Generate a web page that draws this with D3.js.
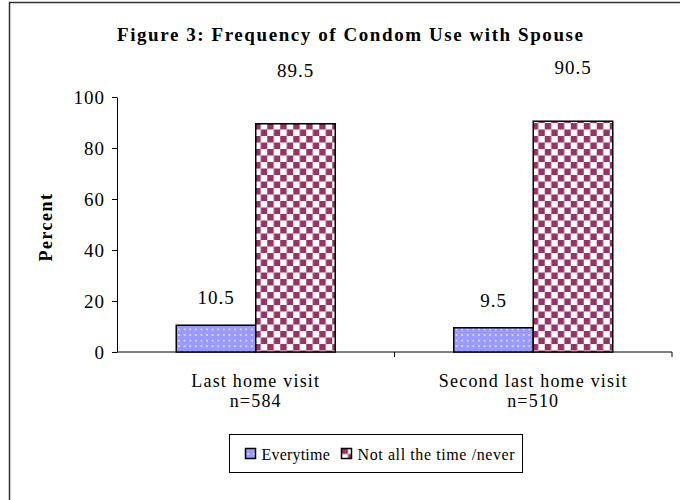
<!DOCTYPE html>
<html lang="en">
<head>
  <meta charset="UTF-8" />
  <title>Figure 3: Frequency of Condom Use with Spouse</title>
  <script src="https://d3js.org/d3.v7.min.js"></script>
  <style>
    html, body { margin: 0; background: #fff; overflow: hidden; }
    svg { display: block; font-family: 'Liberation Serif', 'Times New Roman', serif; }
    .axis path, .axis line { stroke: #000; }
    .axis text { font-size: 19px; fill: #000; font-family: 'Liberation Serif', serif; }
  </style>
</head>
<body>
<svg width="680" height="500"></svg>
<script>
  // data
  const categories = ["Last home visit", "Second last home visit"];
  const sampleSizes = ["n=584", "n=510"];
  const seriesNames = ["Everytime", "Not all the time /never"];
  const everytime = [10.5, 9.5];
  const notAllTime = [89.5, 90.5];
  const yTicks = [0, 20, 40, 60, 80, 100];

  const svg = d3.select("svg");
  const margin = { left: 117, right: 8, top: 97, bottom: 148 };
  const width = 680 - margin.left - margin.right;
  const height = 500 - margin.top - margin.bottom;

  // patterns for the bars
  const defs = svg.append("defs");
  const dots = defs.append("pattern")
    .attr("id", "dots")
    .attr("patternUnits", "userSpaceOnUse")
    .attr("width", 5.6).attr("height", 5.6);
  dots.append("rect").attr("width", 5.6).attr("height", 5.6).attr("fill", "#9999ff");
  dots.append("circle").attr("cx", 2.8).attr("cy", 2.8).attr("r", 0.9).attr("fill", "#eef");

  const checks = defs.append("pattern")
    .attr("id", "checks")
    .attr("patternUnits", "userSpaceOnUse")
    .attr("width", 13).attr("height", 13);
  checks.append("rect").attr("width", 13).attr("height", 13).attr("fill", "#fff");
  checks.append("rect").attr("width", 6.5).attr("height", 6.5).attr("fill", "#993366");
  checks.append("rect").attr("x", 6.5).attr("y", 6.5).attr("width", 6.5).attr("height", 6.5).attr("fill", "#993366");

  const fills = ["url(#dots)", "url(#checks)"];

  // outer frame (right and bottom edges run off the page)
  svg.append("path")
    .attr("d", "M9.5,520V2.5H700")
    .attr("fill", "none")
    .attr("stroke", "#333")
    .attr("stroke-width", 1.5);

  // title
  svg.append("text")
    .attr("x", 350).attr("y", 41)
    .attr("text-anchor", "middle")
    .attr("font-weight", "bold")
    .attr("font-size", 19)
    .attr("textLength", 466)
    .attr("lengthAdjust", "spacing")
    .text("Figure 3: Frequency of Condom Use with Spouse");

  const g = svg.append("g").attr("transform", `translate(${margin.left},${margin.top})`);

  const x0 = d3.scaleBand().domain(categories).range([0, width]);
  const x1 = d3.scaleBand().domain(seriesNames).range([0, 159]);
  const y = d3.scaleLinear().domain([0, 100]).range([height, 0]);

  // y axis
  g.append("g")
    .attr("class", "axis")
    .call(d3.axisLeft(y).tickValues(yTicks).tickSize(5).tickPadding(7).tickSizeOuter(0))
    .call(a => a.selectAll("text").attr("letter-spacing", 1));

  // x axis: ticks at category boundaries
  const xAxis = g.append("g").attr("class", "axis").attr("transform", `translate(0,${height})`);
  xAxis.append("line").attr("x1", 0).attr("x2", width).attr("stroke", "#000");
  xAxis.selectAll(".bt")
    .data(categories)
    .join("line")
    .attr("x1", d => x0(d) + x0.bandwidth())
    .attr("x2", d => x0(d) + x0.bandwidth())
    .attr("y1", 0).attr("y2", 5)
    .attr("stroke", "#000");

  // bars
  const rows = categories.map((c, i) => ({ cat: c, values: [everytime[i], notAllTime[i]] }));
  const groupOffset = (x0.bandwidth() - 159) / 2;
  const labelOffset = [27, 53];

  const grp = g.selectAll(".grp")
    .data(rows)
    .join("g")
    .attr("transform", d => `translate(${x0(d.cat) + groupOffset},0)`);

  grp.selectAll("rect")
    .data(d => d.values.map((v, j) => ({ v, j })))
    .join("rect")
    .attr("x", d => x1(seriesNames[d.j]))
    .attr("y", d => y(d.v))
    .attr("width", x1.bandwidth())
    .attr("height", d => height - y(d.v))
    .attr("fill", d => fills[d.j])
    .attr("stroke", "#000")
    .attr("stroke-width", 1.5);

  grp.selectAll(".val")
    .data(d => d.values.map((v, j) => ({ v, j })))
    .join("text")
    .attr("x", d => x1(seriesNames[d.j]) + x1.bandwidth() / 2)
    .attr("y", d => y(d.v) - labelOffset[d.j])
    .attr("dy", "0.32em")
    .attr("text-anchor", "middle")
    .attr("font-size", 19)
    .attr("letter-spacing", 1)
    .text(d => d.v.toFixed(1));

  // category labels
  const catLabels = g.selectAll(".cat")
    .data(categories)
    .join("text")
    .attr("text-anchor", "middle")
    .attr("font-size", 18)
    .attr("letter-spacing", 1.2)
    .attr("x", d => x0(d) + x0.bandwidth() / 2);
  catLabels.append("tspan").attr("y", height + 35).attr("x", d => x0(d) + x0.bandwidth() / 2).text(d => d);
  catLabels.append("tspan").attr("y", height + 55).attr("x", d => x0(d) + x0.bandwidth() / 2).text((d, i) => sampleSizes[i]);

  // y axis title
  svg.append("text")
    .attr("transform", "translate(52,227) rotate(-90)")
    .attr("text-anchor", "middle")
    .attr("font-weight", "bold")
    .attr("font-size", 18)
    .attr("letter-spacing", 1.5)
    .text("Percent");

  // legend
  const legend = svg.append("g").attr("transform", "translate(229.5,434.5)");
  legend.append("rect")
    .attr("width", 293).attr("height", 38)
    .attr("fill", "#fff").attr("stroke", "#000");
  const legendX = [16, 112];
  const items = legend.selectAll(".item")
    .data(seriesNames)
    .join("g")
    .attr("transform", (d, i) => `translate(${legendX[i]},0)`);
  items.append("rect")
    .attr("x", 0).attr("y", 14)
    .attr("width", 10).attr("height", 10)
    .attr("fill", (d, i) => fills[i])
    .attr("stroke", "#000").attr("stroke-width", 1.5);
  items.append("text")
    .attr("x", 16).attr("y", 25)
    .attr("font-size", 16)
    .attr("letter-spacing", (d, i) => i === 0 ? 0.2 : 0.6)
    .text(d => d);
</script>
</body>
</html>
